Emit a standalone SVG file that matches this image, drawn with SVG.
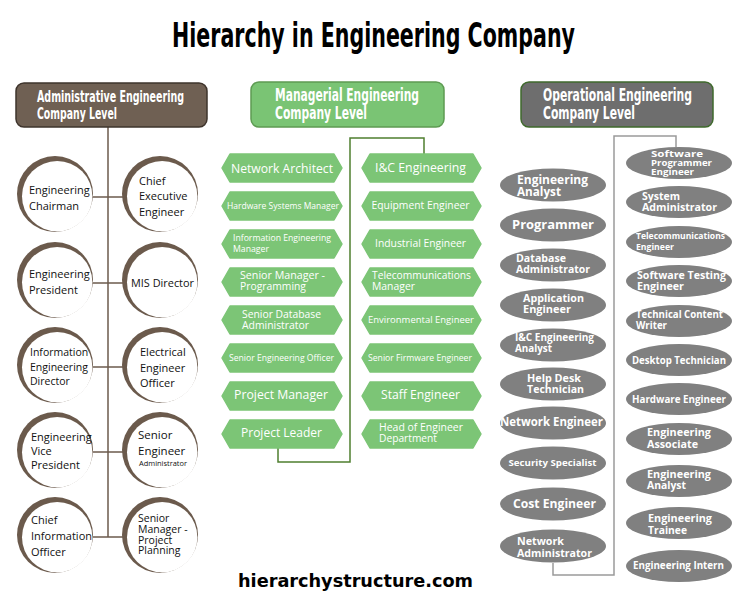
<svg xmlns="http://www.w3.org/2000/svg" width="750" height="600" viewBox="0 0 750 600">
<defs>
<style>
.title{font-family:"Liberation Sans Narrow","DejaVu Sans Condensed","Liberation Sans",sans-serif;font-weight:bold;font-stretch:condensed;fill:#000}
.hdr{font-family:"Liberation Sans Narrow","DejaVu Sans Condensed","Liberation Sans",sans-serif;font-weight:bold;font-stretch:condensed;fill:#fff}
.ct{font-family:"Open Sans","Liberation Sans",sans-serif;fill:#111}
.ht{font-family:"Open Sans","Liberation Sans",sans-serif;fill:#fff}
.et{font-family:"Open Sans","Liberation Sans",sans-serif;font-weight:bold;fill:#fff}
.mid{text-anchor:middle}
.ring{fill:#6b5a4c}
.inner{fill:#fff}
.hex{fill:#7cc576;stroke:#7cc576;stroke-width:1.5;stroke-linejoin:round}
.ell{fill:#808080}
.foot{font-family:"DejaVu Sans","Verdana",sans-serif;font-weight:bold;fill:#000}
</style>
</defs>
<rect width="750" height="600" fill="#fff"/>
<text class="title" x="172" y="47" font-size="33" textLength="403" lengthAdjust="spacingAndGlyphs">Hierarchy in Engineering Company</text>

<!-- connectors -->
<g id="connectors" fill="none" stroke-width="1.5">
  <g stroke="#6b5a4c">
    <line x1="108" y1="127" x2="108" y2="537"/>
    <line x1="90" y1="197" x2="128" y2="197"/>
    <line x1="90" y1="283" x2="128" y2="283"/>
    <line x1="90" y1="367" x2="128" y2="367"/>
    <line x1="90" y1="452" x2="128" y2="452"/>
    <line x1="90" y1="537" x2="128" y2="537"/>
  </g>
  <path d="M424,154 V138 H350 V462 H278 V448" stroke="#4f7f2f"/>
  <path d="M676,147 V136 H614 V575 H553 V563" stroke="#9a9a9a"/>
</g>

<!-- headers -->
<g id="hdr-admin">
  <rect x="16" y="83" width="191" height="44" rx="8" fill="#6f6053" stroke="#3e342c" stroke-width="1.5"/>
  <text class="hdr" x="37" y="102" font-size="15.5" textLength="147" lengthAdjust="spacingAndGlyphs">Administrative Engineering</text>
  <text class="hdr" x="37" y="119" font-size="15.5" textLength="80" lengthAdjust="spacingAndGlyphs">Company Level</text>
</g>
<g id="hdr-man">
  <rect x="251" y="82" width="193" height="45" rx="8" fill="#7ac474" stroke="#5d9b52" stroke-width="1.5"/>
  <text class="hdr" x="275" y="101" font-size="17.5" textLength="144" lengthAdjust="spacingAndGlyphs">Managerial Engineering</text>
  <text class="hdr" x="275" y="119" font-size="17.5" textLength="92" lengthAdjust="spacingAndGlyphs">Company Level</text>
</g>
<g id="hdr-op">
  <rect x="521" y="82" width="192" height="45" rx="8" fill="#6e6e6e" stroke="#3f6a2c" stroke-width="1.5"/>
  <text class="hdr" x="543" y="101" font-size="17.5" textLength="149" lengthAdjust="spacingAndGlyphs">Operational Engineering</text>
  <text class="hdr" x="543" y="119" font-size="17.5" textLength="92" lengthAdjust="spacingAndGlyphs">Company Level</text>
</g>

<!-- administrative circles -->
<g id="c-chairman"><circle class="ring" cx="55" cy="194" r="38"/><circle class="inner" cx="57.2" cy="196.2" r="35.2"/>
  <text class="ct" x="29" y="194" font-size="11">Engineering</text><text class="ct" x="29" y="210" font-size="11">Chairman</text></g>
<g id="c-ceo"><circle class="ring" cx="160" cy="194" r="38"/><circle class="inner" cx="162.2" cy="196.2" r="35.2"/>
  <text class="ct" x="139" y="185" font-size="11">Chief</text><text class="ct" x="139" y="200" font-size="11">Executive</text><text class="ct" x="139" y="216" font-size="11">Engineer</text></g>
<g id="c-president"><circle class="ring" cx="55" cy="280" r="38"/><circle class="inner" cx="57.2" cy="282.2" r="35.2"/>
  <text class="ct" x="29" y="278" font-size="11">Engineering</text><text class="ct" x="29" y="294" font-size="11">President</text></g>
<g id="c-mis"><circle class="ring" cx="160" cy="280" r="38"/><circle class="inner" cx="162.2" cy="282.2" r="35.2"/>
  <text class="ct" x="131" y="287" font-size="11" textLength="63" lengthAdjust="spacingAndGlyphs">MIS Director</text></g>
<g id="c-infodir"><circle class="ring" cx="55" cy="365" r="38"/><circle class="inner" cx="57.2" cy="367.2" r="35.2"/>
  <text class="ct" x="30" y="356" font-size="10.5">Information</text><text class="ct" x="30" y="371" font-size="10.5">Engineering</text><text class="ct" x="30" y="385" font-size="10.5">Director</text></g>
<g id="c-elec"><circle class="ring" cx="160" cy="365" r="38"/><circle class="inner" cx="162.2" cy="367.2" r="35.2"/>
  <text class="ct" x="140" y="356" font-size="11">Electrical</text><text class="ct" x="140" y="372" font-size="11">Engineer</text><text class="ct" x="140" y="387" font-size="11">Officer</text></g>
<g id="c-vp"><circle class="ring" cx="55" cy="450" r="38"/><circle class="inner" cx="57.2" cy="452.2" r="35.2"/>
  <text class="ct" x="31" y="441" font-size="11">Engineering</text><text class="ct" x="31" y="455" font-size="11">Vice</text><text class="ct" x="31" y="469" font-size="11">President</text></g>
<g id="c-senioreng"><circle class="ring" cx="160" cy="450" r="38"/><circle class="inner" cx="162.2" cy="452.2" r="35.2"/>
  <text class="ct" x="138" y="439" font-size="11.5">Senior</text><text class="ct" x="138" y="455" font-size="11.5">Engineer</text><text class="ct" x="139" y="466" font-size="7.5" textLength="48" lengthAdjust="spacingAndGlyphs">Administrator</text></g>
<g id="c-cio"><circle class="ring" cx="55" cy="535" r="38"/><circle class="inner" cx="57.2" cy="537.2" r="35.2"/>
  <text class="ct" x="31" y="524" font-size="11">Chief</text><text class="ct" x="31" y="540" font-size="11">Information</text><text class="ct" x="31" y="556" font-size="11">Officer</text></g>
<g id="c-smpp"><circle class="ring" cx="160" cy="535" r="38"/><circle class="inner" cx="162.2" cy="537.2" r="35.2"/>
  <text class="ct" x="138" y="522" font-size="10.5">Senior</text><text class="ct" x="138" y="533" font-size="10.5">Manager -</text><text class="ct" x="138" y="543.5" font-size="10.5">Project</text><text class="ct" x="138" y="554" font-size="10.5">Planning</text></g>

<!-- managerial hexagons, left -->
<g id="h-netarch"><polygon class="hex" points="230,154 334,154 342,168 334,182 230,182 222,168"/><text class="ht mid" x="282" y="173" font-size="12.5" textLength="102" lengthAdjust="spacingAndGlyphs">Network Architect</text></g>
<g id="h-hwsys"><polygon class="hex" points="230,192 334,192 342,206 334,220 230,220 222,206"/><text class="ht mid" x="283" y="209" font-size="9" textLength="112" lengthAdjust="spacingAndGlyphs">Hardware Systems Manager</text></g>
<g id="h-infoeng"><polygon class="hex" points="230,230 334,230 342,244 334,258 230,258 222,244"/><text class="ht" x="233" y="241" font-size="9" textLength="98" lengthAdjust="spacingAndGlyphs">Information Engineering</text><text class="ht" x="233" y="252" font-size="9" textLength="36" lengthAdjust="spacingAndGlyphs">Manager</text></g>
<g id="h-smprog"><polygon class="hex" points="230,268 334,268 342,282 334,296 230,296 222,282"/><text class="ht" x="240" y="279" font-size="11" textLength="85" lengthAdjust="spacingAndGlyphs">Senior Manager -</text><text class="ht" x="240" y="290" font-size="11" textLength="66" lengthAdjust="spacingAndGlyphs">Programming</text></g>
<g id="h-sdba"><polygon class="hex" points="230,306 334,306 342,320 334,334 230,334 222,320"/><text class="ht" x="242" y="318" font-size="11" textLength="79" lengthAdjust="spacingAndGlyphs">Senior Database</text><text class="ht" x="242" y="329" font-size="11" textLength="67" lengthAdjust="spacingAndGlyphs">Administrator</text></g>
<g id="h-seo"><polygon class="hex" points="230,344 334,344 342,358 334,372 230,372 222,358"/><text class="ht mid" x="281.5" y="361" font-size="8.8" textLength="105" lengthAdjust="spacingAndGlyphs">Senior Engineering Officer</text></g>
<g id="h-pm"><polygon class="hex" points="230,382 334,382 342,396 334,410 230,410 222,396"/><text class="ht mid" x="281" y="399" font-size="12.5" textLength="94" lengthAdjust="spacingAndGlyphs">Project Manager</text></g>
<g id="h-pl"><polygon class="hex" points="230,420 334,420 342,434 334,448 230,448 222,434"/><text class="ht mid" x="281.5" y="437" font-size="12.5" textLength="81" lengthAdjust="spacingAndGlyphs">Project Leader</text></g>

<!-- managerial hexagons, right -->
<g id="h-ic"><polygon class="hex" points="370,154 473,154 481,168 473,182 370,182 362,168"/><text class="ht mid" x="420.5" y="172" font-size="12.5" textLength="91" lengthAdjust="spacingAndGlyphs">I&amp;C Engineering</text></g>
<g id="h-equip"><polygon class="hex" points="370,192 473,192 481,206 473,220 370,220 362,206"/><text class="ht mid" x="420.5" y="209" font-size="11" textLength="98" lengthAdjust="spacingAndGlyphs">Equipment Engineer</text></g>
<g id="h-indus"><polygon class="hex" points="370,230 473,230 481,244 473,258 370,258 362,244"/><text class="ht mid" x="420.5" y="247" font-size="11" textLength="91" lengthAdjust="spacingAndGlyphs">Industrial Engineer</text></g>
<g id="h-telmgr"><polygon class="hex" points="370,268 473,268 481,282 473,296 370,296 362,282"/><text class="ht" x="372" y="279" font-size="11" textLength="99" lengthAdjust="spacingAndGlyphs">Telecommunications</text><text class="ht" x="372" y="290" font-size="11" textLength="43" lengthAdjust="spacingAndGlyphs">Manager</text></g>
<g id="h-env"><polygon class="hex" points="370,306 473,306 481,320 473,334 370,334 362,320"/><text class="ht mid" x="421" y="323" font-size="9.5" textLength="106" lengthAdjust="spacingAndGlyphs">Environmental Engineer</text></g>
<g id="h-sfw"><polygon class="hex" points="370,344 473,344 481,358 473,372 370,372 362,358"/><text class="ht mid" x="420" y="361" font-size="9" textLength="104" lengthAdjust="spacingAndGlyphs">Senior Firmware Engineer</text></g>
<g id="h-staff"><polygon class="hex" points="370,382 473,382 481,396 473,410 370,410 362,396"/><text class="ht mid" x="420.5" y="399" font-size="12.5" textLength="79" lengthAdjust="spacingAndGlyphs">Staff Engineer</text></g>
<g id="h-head"><polygon class="hex" points="370,420 473,420 481,434 473,448 370,448 362,434"/><text class="ht" x="379" y="431" font-size="11" textLength="84" lengthAdjust="spacingAndGlyphs">Head of Engineer</text><text class="ht" x="379" y="442" font-size="11" textLength="58" lengthAdjust="spacingAndGlyphs">Department</text></g>

<!-- operational ellipses, left -->
<g id="e-enganalyst"><ellipse class="ell" cx="553" cy="185" rx="53" ry="16.5"/><text class="et" x="517" y="184" font-size="11.5" textLength="71" lengthAdjust="spacingAndGlyphs">Engineering</text><text class="et" x="517" y="195.5" font-size="11.5" textLength="44" lengthAdjust="spacingAndGlyphs">Analyst</text></g>
<g id="e-prog"><ellipse class="ell" cx="553" cy="225" rx="53" ry="16.5"/><text class="et mid" x="553" y="228.5" font-size="12.5" textLength="82" lengthAdjust="spacingAndGlyphs">Programmer</text></g>
<g id="e-dba"><ellipse class="ell" cx="553" cy="265" rx="53" ry="16.5"/><text class="et" x="516" y="262" font-size="11" textLength="50" lengthAdjust="spacingAndGlyphs">Database</text><text class="et" x="516" y="273" font-size="11" textLength="74" lengthAdjust="spacingAndGlyphs">Administrator</text></g>
<g id="e-app"><ellipse class="ell" cx="553" cy="305" rx="53" ry="16.5"/><text class="et" x="523" y="302" font-size="11" textLength="61" lengthAdjust="spacingAndGlyphs">Application</text><text class="et" x="523" y="313" font-size="11" textLength="48" lengthAdjust="spacingAndGlyphs">Engineer</text></g>
<g id="e-icanalyst"><ellipse class="ell" cx="553" cy="345" rx="53" ry="16.5"/><text class="et" x="515" y="340.5" font-size="10" textLength="79" lengthAdjust="spacingAndGlyphs">I&amp;C Engineering</text><text class="et" x="515" y="352" font-size="10" textLength="37" lengthAdjust="spacingAndGlyphs">Analyst</text></g>
<g id="e-helpdesk"><ellipse class="ell" cx="553" cy="384" rx="53" ry="16.5"/><text class="et" x="527" y="382" font-size="11" textLength="54" lengthAdjust="spacingAndGlyphs">Help Desk</text><text class="et" x="527" y="393" font-size="11" textLength="57" lengthAdjust="spacingAndGlyphs">Technician</text></g>
<g id="e-neteng"><ellipse class="ell" cx="553" cy="423" rx="53" ry="16.5"/><text class="et mid" x="551.5" y="426" font-size="11.5" textLength="103" lengthAdjust="spacingAndGlyphs">Network Engineer</text></g>
<g id="e-sec"><ellipse class="ell" cx="553" cy="463" rx="53" ry="16.5"/><text class="et mid" x="552.5" y="466" font-size="9.5" textLength="88" lengthAdjust="spacingAndGlyphs">Security Specialist</text></g>
<g id="e-cost"><ellipse class="ell" cx="553" cy="504" rx="53" ry="16.5"/><text class="et mid" x="554.5" y="507.5" font-size="11.5" textLength="83" lengthAdjust="spacingAndGlyphs">Cost Engineer</text></g>
<g id="e-netadmin"><ellipse class="ell" cx="553" cy="546" rx="53" ry="16.5"/><text class="et" x="517" y="545" font-size="11" textLength="47" lengthAdjust="spacingAndGlyphs">Network</text><text class="et" x="517" y="557" font-size="11" textLength="75" lengthAdjust="spacingAndGlyphs">Administrator</text></g>

<!-- operational ellipses, right -->
<g id="e-swprog"><ellipse class="ell" cx="679" cy="163" rx="53" ry="16"/><text class="et" x="651" y="157" font-size="8.5" textLength="52" lengthAdjust="spacingAndGlyphs">Software</text><text class="et" x="651" y="166" font-size="8.5" textLength="61" lengthAdjust="spacingAndGlyphs">Programmer</text><text class="et" x="651" y="175" font-size="8.5" textLength="43" lengthAdjust="spacingAndGlyphs">Engineer</text></g>
<g id="e-sysadmin"><ellipse class="ell" cx="679" cy="202" rx="53" ry="16"/><text class="et" x="642" y="199.5" font-size="11" textLength="38" lengthAdjust="spacingAndGlyphs">System</text><text class="et" x="642" y="211" font-size="11" textLength="75" lengthAdjust="spacingAndGlyphs">Administrator</text></g>
<g id="e-teleng"><ellipse class="ell" cx="679" cy="242" rx="53" ry="16"/><text class="et" x="636" y="239" font-size="8.3" textLength="89" lengthAdjust="spacingAndGlyphs">Telecommunications</text><text class="et" x="636" y="249.5" font-size="8.3" textLength="38" lengthAdjust="spacingAndGlyphs">Engineer</text></g>
<g id="e-swtest"><ellipse class="ell" cx="679" cy="281" rx="53" ry="16"/><text class="et" x="637" y="279" font-size="11" textLength="89" lengthAdjust="spacingAndGlyphs">Software Testing</text><text class="et" x="637" y="290" font-size="11" textLength="47" lengthAdjust="spacingAndGlyphs">Engineer</text></g>
<g id="e-techwriter"><ellipse class="ell" cx="679" cy="321" rx="53" ry="16"/><text class="et" x="636" y="318" font-size="10" textLength="87" lengthAdjust="spacingAndGlyphs">Technical Content</text><text class="et" x="636" y="328.5" font-size="10" textLength="31" lengthAdjust="spacingAndGlyphs">Writer</text></g>
<g id="e-desktop"><ellipse class="ell" cx="679" cy="360" rx="53" ry="16"/><text class="et mid" x="679" y="363.5" font-size="9.8" textLength="94" lengthAdjust="spacingAndGlyphs">Desktop Technician</text></g>
<g id="e-hweng"><ellipse class="ell" cx="679" cy="399" rx="53" ry="16"/><text class="et mid" x="679" y="402.5" font-size="9.8" textLength="94" lengthAdjust="spacingAndGlyphs">Hardware Engineer</text></g>
<g id="e-engassoc"><ellipse class="ell" cx="679" cy="439" rx="53" ry="16"/><text class="et" x="647" y="436" font-size="11" textLength="64" lengthAdjust="spacingAndGlyphs">Engineering</text><text class="et" x="647" y="447.5" font-size="11" textLength="51" lengthAdjust="spacingAndGlyphs">Associate</text></g>
<g id="e-enganalyst2"><ellipse class="ell" cx="679" cy="481" rx="53" ry="16"/><text class="et" x="647" y="477.5" font-size="11" textLength="64" lengthAdjust="spacingAndGlyphs">Engineering</text><text class="et" x="647" y="489" font-size="11" textLength="39" lengthAdjust="spacingAndGlyphs">Analyst</text></g>
<g id="e-trainee"><ellipse class="ell" cx="679" cy="523" rx="53" ry="16"/><text class="et" x="648" y="522" font-size="11" textLength="64" lengthAdjust="spacingAndGlyphs">Engineering</text><text class="et" x="648" y="533.5" font-size="11" textLength="39" lengthAdjust="spacingAndGlyphs">Trainee</text></g>
<g id="e-intern"><ellipse class="ell" cx="679" cy="566" rx="53" ry="16"/><text class="et mid" x="678.5" y="569" font-size="9.8" textLength="91" lengthAdjust="spacingAndGlyphs">Engineering Intern</text></g>

<text class="foot" x="238" y="587" font-size="17" textLength="235" lengthAdjust="spacingAndGlyphs">hierarchystructure.com</text>
</svg>
